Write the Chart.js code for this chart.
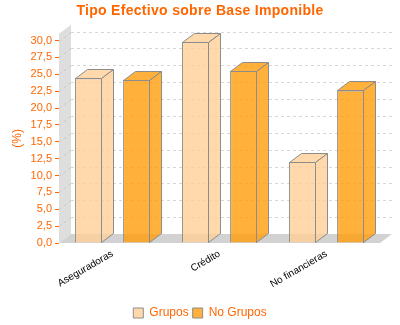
<!DOCTYPE html>
<html>
<head>
<meta charset="utf-8">
<script src="https://cdn.jsdelivr.net/npm/chart.js@4/dist/chart.umd.min.js"></script>
<style>
  body { margin: 0; background: #fff; }
  canvas { display: block; }
</style>
</head>
<body>
<canvas id="chart" width="400" height="325"></canvas>
<script>
const categories = ['Aseguradoras', 'Crédito', 'No financieras'];
const grupos = [24.4, 29.8, 12.0];
const noGrupos = [24.2, 25.5, 22.6];
const yTicks = [0, 2.5, 5, 7.5, 10, 12.5, 15, 17.5, 20, 22.5, 25, 27.5, 30];

const orange = '#ff6600';
const edge = '#8c8c8c';
const sans = 'Liberation Sans, Arial, sans-serif';
const dx = 12, dy = -9; // depth of the 3d box

function poly(ctx, pts) {
  ctx.beginPath();
  pts.forEach(([x, y], i) => i ? ctx.lineTo(x, y) : ctx.moveTo(x, y));
  ctx.closePath();
}

// wall, floor and back gridlines, then the top/side faces of each bar
const box3d = {
  id: 'box3d',
  beforeDraw(chart) {
    // slightly wider tracking for the title text
    const tb = chart.titleBlock;
    if (tb && !tb._spaced) {
      const draw = tb.draw.bind(tb);
      tb.draw = (...args) => {
        chart.ctx.save();
        chart.ctx.letterSpacing = '0.3px';
        draw(...args);
        chart.ctx.restore();
      };
      tb._spaced = true;
    }
  },
  beforeDatasetsDraw(chart) {
    const { ctx, chartArea: a, scales: { y } } = chart;
    ctx.save();
    ctx.fillStyle = '#dedede';
    poly(ctx, [[a.left, a.bottom], [a.left, a.top], [a.left + dx, a.top + dy], [a.left + dx, a.bottom + dy]]);
    ctx.fill();
    ctx.fillStyle = '#d2d2d2';
    poly(ctx, [[a.left, a.bottom], [a.right, a.bottom], [a.right + dx, a.bottom + dy], [a.left + dx, a.bottom + dy]]);
    ctx.fill();

    ctx.lineWidth = 1;
    ctx.setLineDash([3, 3]);
    yTicks.forEach(v => {
      if (v === 0) return;
      const py = Math.round(y.getPixelForValue(v)) + 0.5;
      ctx.strokeStyle = '#d8d8d8';
      ctx.beginPath();
      ctx.moveTo(a.left + dx, py + dy);
      ctx.lineTo(a.right + dx, py + dy);
      ctx.stroke();
      ctx.strokeStyle = '#c8c8c8';
      ctx.beginPath();
      ctx.moveTo(a.left, py);
      ctx.lineTo(a.left + dx, py + dy);
      ctx.stroke();
    });
    ctx.restore();
  },
  afterDatasetsDraw(chart) {
    const { ctx } = chart;
    ctx.save();
    ctx.lineWidth = 1;
    ctx.strokeStyle = edge;
    chart.data.datasets.forEach((ds, i) => {
      chart.getDatasetMeta(i).data.forEach(bar => {
        const { x, y, base, width } = bar.getProps(['x', 'y', 'base', 'width'], true);
        const l = Math.round(x - width / 2) + 0.5;
        const r = Math.round(x + width / 2) - 0.5;
        const t = Math.round(y) + 0.5;
        const b = Math.round(base) - 0.5;
        ctx.fillStyle = ds.backgroundColor;
        poly(ctx, [[l, t], [l + dx, t + dy], [r + dx, t + dy], [r, t]]);
        ctx.fill();
        ctx.stroke();
        poly(ctx, [[r, t], [r + dx, t + dy], [r + dx, b + dy], [r, b]]);
        ctx.fill();
        ctx.stroke();
      });
    });
    ctx.restore();
  }
};

new Chart(document.getElementById('chart'), {
  type: 'bar',
  data: {
    labels: categories,
    datasets: [
      { label: 'Grupos', data: grupos, backgroundColor: 'rgba(255,207,150,0.8)', borderColor: edge, borderWidth: 1 },
      { label: 'No Grupos', data: noGrupos, backgroundColor: 'rgba(255,157,10,0.8)', borderColor: edge, borderWidth: 1 }
    ]
  },
  options: {
    responsive: false,
    animation: false,
    categoryPercentage: 0.9,
    barPercentage: 0.56,
    layout: { padding: { top: 0, right: 10, left: 10, bottom: -4 } },
    plugins: {
      title: {
        display: true,
        text: 'Tipo Efectivo sobre Base Imponible',
        color: orange,
        font: { family: sans, size: 14, weight: 'bold' },
        padding: { top: 3, bottom: 14 }
      },
      legend: {
        position: 'bottom',
        labels: {
          boxWidth: 10,
          boxHeight: 10,
          padding: 4,
          color: orange,
          font: { family: sans, size: 12 }
        }
      },
      tooltip: { enabled: false }
    },
    scales: {
      x: {
        grid: { display: false },
        border: { display: false },
        ticks: {
          color: '#000',
          minRotation: 30,
          maxRotation: 30,
          padding: -3,
          font: { family: sans, size: 10 }
        },
        afterFit(scale) { scale.height = 60; }
      },
      y: {
        min: 0,
        max: 31,
        afterBuildTicks(scale) { scale.ticks = yTicks.map(v => ({ value: v })); },
        grid: { drawOnChartArea: false, drawTicks: true, tickLength: 4, tickColor: orange },
        border: { display: false },
        ticks: {
          color: orange,
          padding: 3,
          font: { family: sans, size: 11 },
          callback: v => v.toFixed(1).replace('.', ',')
        },
        title: {
          display: true,
          text: '(%)',
          color: orange,
          font: { family: sans, size: 12 },
          padding: { top: 0, bottom: 0 }
        },
        afterFit(scale) { scale.width = 49; }
      },
      // blank right axis: keeps room for the box depth
      yRight: {
        position: 'right',
        display: true,
        grid: { display: false },
        border: { display: false },
        ticks: { display: false },
        afterFit(scale) { scale.width = 10; }
      }
    }
  },
  plugins: [box3d]
});
</script>
</body>
</html>
